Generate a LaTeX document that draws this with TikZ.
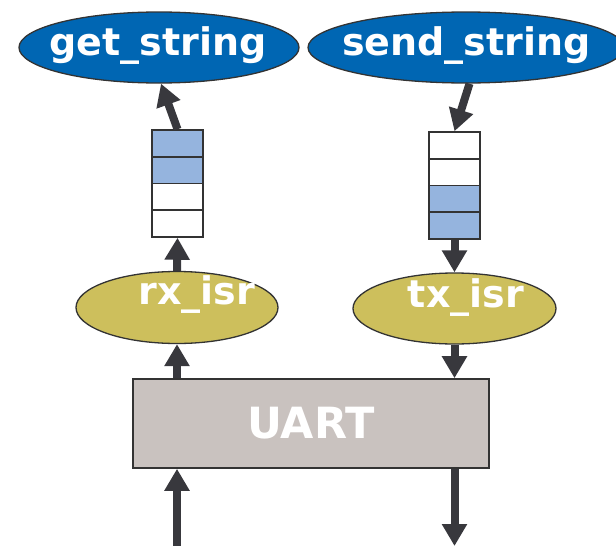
\documentclass[tikz,border=0pt]{standalone}
\usepackage{fontspec}
\setmainfont{DejaVu Sans}
\usetikzlibrary{arrows.meta,shapes.geometric}

\definecolor{callblue}{RGB}{0,102,179}
\definecolor{isrgold}{RGB}{205,191,92}
\definecolor{uartgray}{RGB}{201,194,191}
\definecolor{cellblue}{RGB}{149,180,222}
\definecolor{inkgray}{RGB}{56,56,61}
\definecolor{edgegray}{RGB}{51,51,51}

\tikzset{
  callnode/.style={ellipse, draw=edgegray, line width=1.3pt, fill=callblue,
    inner sep=0pt},
  isrnode/.style={ellipse, draw=edgegray, line width=1.3pt, fill=isrgold,
    inner sep=0pt},
  bigtext/.style={inner sep=0pt, text=white, font=\bfseries\fontsize{38}{41}\selectfont},
  cell/.style={rectangle, draw=edgegray, line width=1.6pt, fill=white,
    minimum width=51pt, minimum height=26.75pt, inner sep=0pt},
  fullcell/.style={cell, fill=cellblue},
  uartbox/.style={rectangle, draw=edgegray, line width=1.6pt, fill=uartgray,
    minimum width=356pt, minimum height=89pt, inner sep=0pt, text=white,
    font=\bfseries\fontsize{43}{47}\selectfont},
  flow/.style={draw=inkgray, line width=8pt,
    -{Triangle[width=24pt,length=22pt]}},
}

\begin{document}
\begin{tikzpicture}[x=1pt,y=-1pt]
  \useasboundingbox (0,0) rectangle (616,546);
  \clip (0,0) rectangle (616,546);

  % application calls
  \node[callnode, minimum width=280pt, minimum height=71pt] (gs) at (159,47.5) {};
  \node[bigtext] (gsl) at (158,45.5) {get\_string};
  \node[callnode, minimum width=316pt, minimum height=71pt] (ss) at (466,47.5) {};
  \node[bigtext] (ssl) at (466.5,45.5) {send\_string};

  % receive queue (top two slots filled)
  \node[fullcell] (q1) at (177.5,143.4) {};
  \node[fullcell] (q2) at (177.5,170.1) {};
  \node[cell]     (q3) at (177.5,196.9) {};
  \node[cell]     (q4) at (177.5,223.6) {};

  % transmit queue (bottom two slots filled)
  \node[cell]     (t1) at (454.5,145.4) {};
  \node[cell]     (t2) at (454.5,172.1) {};
  \node[fullcell] (t3) at (454.5,198.9) {};
  \node[fullcell] (t4) at (454.5,225.6) {};

  % interrupt service routines
  \node[isrnode, minimum width=202pt, minimum height=72pt] (rx) at (177,307.5) {};
  \node[bigtext] (rxl) at (197,294.5) {rx\_isr};
  \node[isrnode, minimum width=203pt, minimum height=71pt] (tx) at (454.5,308.5) {};
  \node[bigtext] (txl) at (466,297.5) {tx\_isr};

  % hardware
  \node[uartbox] (uart) at (311,423.5) {UART};

  \coordinate (inL) at (177,546);
  \coordinate (outR) at (454.5,546);

  % receive path
  \draw[flow] (inL) -- (inL |- uart.south);
  \draw[flow] (uart.north -| rx) -- (rx.south);
  \draw[flow] (rx.north) -- (q4.south);
  \draw[flow] (q1.north) -- ([xshift=2pt]gs.south);

  % transmit path
  \draw[flow] ([xshift=3.5pt]ss.south) -- (t1.north);
  \draw[flow] (t4.south) -- (tx.north);
  \draw[flow] (tx.south) -- (tx.south |- uart.north);
  \draw[flow] (uart.south -| outR) -- (outR);
\end{tikzpicture}
\end{document}
